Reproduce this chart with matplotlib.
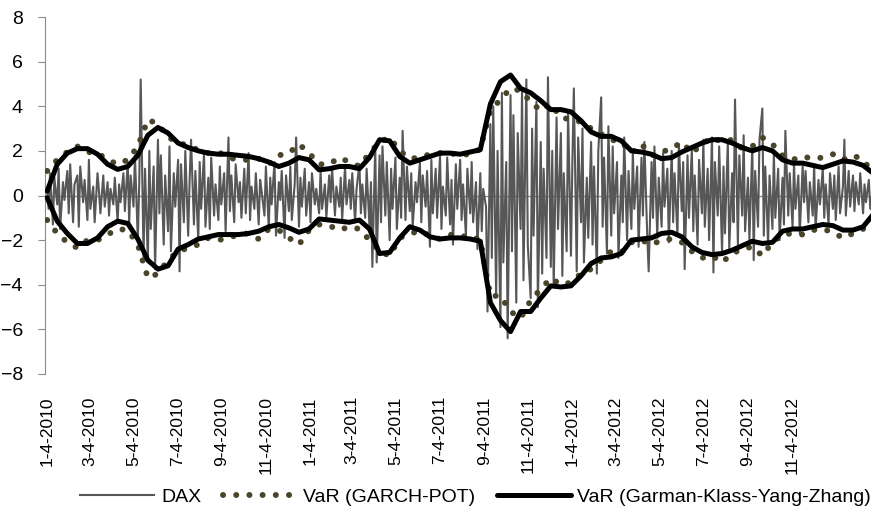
import matplotlib
matplotlib.use("Agg")
import matplotlib.pyplot as plt
import pandas as pd

# DAX daily returns (%), one value per 2 trading days
dax = [
    0.3, -0.6, 1.0, -1.3, 0.8, -0.4, 1.2, -1.5, 0.6, -0.2,
    1.1, -0.8, 1.4, -1.2, 0.5, 0.9, -1.4, 1.3, -0.3, 0.7,
    -1.1, 1.6, -0.6, 0.4, -1.2, 1.0, 0.2, -0.8, 0.9, -0.5,
    0.6, -0.9, 0.3, -0.4, 0.8, -1.2, 0.5, -0.3, 1.0, -0.7,
    1.5, -1.3, 0.9, -0.5, 1.8, -2.0, 0.6, 5.2, -2.8, 1.2,
    -3.0, 2.0, -1.5, 1.3, -3.3, 2.5, -0.8, 1.8, -2.2, 0.9,
    -1.6, 2.2, -2.5, 1.0, -0.5, 1.6, -3.4, 1.4, -1.2, 2.0,
    -1.8, 0.7, 2.5, -1.3, 1.1, -2.0, 1.5, -0.6, 1.9, -1.4,
    0.8, -1.5, 1.7, -0.9, 0.5, -1.1, 1.3, -0.4, 1.0, -1.6,
    2.6, -0.7, 0.9, -1.2, 1.4, -0.3, 0.6, -1.0, 1.2, -0.8,
    1.9, -1.1, 0.4, -0.6, 1.0, -1.3, 0.7, 0.2, -0.9, 1.3,
    -1.5, 0.8, -0.4, 1.5, -1.8, 0.6, -0.2, 1.1, -1.9, 0.9,
    -0.7, 1.3, -1.1, 0.5, 2.6, -1.4, 0.8, -0.5, 1.2, -0.9,
    0.6, -1.2, 1.0, -0.4, 0.3, -0.8, 1.1, -0.6, 0.5, -1.0,
    0.9, -0.3, 1.2, -0.9, 0.4, -0.5, 0.8, -1.1, 1.3, -0.4,
    0.7, -0.6, 1.0, -1.2, 0.3, 1.4, -0.8, 0.5, -1.0, 1.2,
    -1.4, 0.6, -3.2, 2.3, -3.0, 1.8, -1.2, 2.2, -0.9, 1.5,
    -2.0, 1.2, -0.6, 1.7, -1.5, 0.8, -1.0, 2.9, -1.1, 1.3,
    -0.7, 1.0, -1.4, 0.6, -0.3, 1.5, -1.2, 0.9, -0.5, 1.1,
    -2.3, 1.6, -0.8, 1.2, -1.0, 1.8, -1.5, 0.4, -0.9, 1.7,
    -1.3, 0.7, -2.2, 1.4, -0.6, 1.6, -1.1, 0.5, -1.8, 1.2,
    -0.8, 1.5, -1.2, 0.6, -2.4, 1.0, -1.6, 0.3, -0.5, -5.2,
    3.2, -2.8, 4.0, -4.5, 2.0, -5.9, 4.6, -3.0, 1.5, -6.4,
    4.5, -2.5, 3.6, -4.8, 2.8, -1.5, 4.8, -3.8, 5.2, -2.2,
    -4.6, 3.0, -1.8, 4.2, -5.0, 2.4, -3.5, 1.2, -2.8, 5.3,
    -3.2, 2.0, -4.1, 3.5, -1.5, 2.8, -3.6, 1.0, -2.5, 3.8,
    -2.7, 1.6, 4.8, -3.4, 2.6, -1.2, 3.0, -3.0, 0.8, -1.9,
    2.4, -2.2, 1.3, -3.5, 2.0, 4.4, -1.4, 1.7, -2.6, 3.1,
    -1.8, 2.2, -0.8, 1.5, -2.8, 0.9, -1.2, 2.6, -2.0, 1.1,
    -1.5, 2.0, -0.6, 1.3, -2.3, 1.7, -0.9, 2.4, -1.8, -3.4,
    1.5, -1.0, 2.2, -1.9, 0.8, -1.4, 1.9, -0.5, 1.2, -2.1,
    2.0, -1.2, 1.0, -1.8, 2.3, -0.7, 1.5, -3.3, 1.8, -1.0,
    2.1, -1.6, 0.9, -2.2, 1.6, -0.8, 2.5, -1.4, 1.2, -2.0,
    2.6, -3.45, 1.5, -0.9, 2.2, -2.6, 1.3, -1.7, 2.4, -2.4,
    1.0, -1.2, 4.3, -2.2, 1.8, -0.9, 2.7, -1.6, 0.8, -2.0,
    2.2, -2.9, 1.1, -1.4, 2.5, 3.9, -1.8, 1.3, -2.2, 0.9,
    -1.5, 1.9, -1.0, 1.2, -2.0, 0.8, -1.3, 2.9, -0.9, 1.0,
    -1.4, 1.5, -0.6, 0.9, -1.7, 1.3, -0.3, 1.1, -1.2, 0.6,
    -0.9, 1.4, -1.5, 0.7, -0.4, 1.2, -1.0, 0.5, -1.3, 1.0,
    -0.6, 0.9, -1.1, 1.3, -0.8, 0.4, 2.5, -0.9, 1.1, -0.5,
    0.9, -0.7, 0.6, -0.4, 1.0, -0.8, 0.5, -0.3, 0.7, -0.6,
    0.4, -0.2,
]

# VaR bands, one value every 14 days
gkyz_upper = [
    0.2, 1.4, 1.9, 2.1, 2.1, 1.85, 1.4, 1.17, 1.3, 1.8,
    2.7, 3.05, 2.8, 2.35, 2.15, 2.0, 1.9, 1.85, 1.85, 1.8,
    1.75, 1.65, 1.5, 1.3, 1.45, 1.7, 1.6, 1.15, 1.2, 1.3,
    1.3, 1.2, 1.7, 2.5, 2.45, 1.75, 1.45, 1.6, 1.75, 1.9,
    1.9, 1.85, 1.95, 2.05, 4.1, 5.1, 5.4, 4.8, 4.6, 4.25,
    3.85, 3.85, 3.75, 3.35, 2.85, 2.65, 2.65, 2.45, 2.0, 1.95,
    1.85, 1.65, 1.7, 1.95, 2.15, 2.35, 2.5, 2.5, 2.35, 2.15,
    2.0, 2.15, 2.0, 1.6, 1.45, 1.45, 1.35, 1.25, 1.4, 1.55,
    1.5, 1.35, 1.0,
]
gkyz_lower = [
    -0.1, -1.15, -1.7, -2.15, -2.15, -1.9, -1.4, -1.15, -1.25, -1.95,
    -2.9, -3.3, -3.15, -2.4, -2.2, -1.95, -1.85, -1.75, -1.75, -1.75,
    -1.7, -1.6, -1.4, -1.3, -1.45, -1.65, -1.5, -1.05, -1.1, -1.15,
    -1.2, -1.1, -1.5, -2.6, -2.55, -1.9, -1.4, -1.55, -1.85, -1.95,
    -1.9, -1.9, -1.95, -2.05, -4.8, -5.6, -6.1, -5.2, -5.2, -4.6,
    -4.05, -4.1, -4.05, -3.6, -3.05, -2.8, -2.75, -2.6, -2.0, -1.95,
    -1.9, -1.7, -1.65, -1.85, -2.3, -2.55, -2.65, -2.6, -2.45, -2.25,
    -2.05, -2.15, -2.1, -1.6, -1.5, -1.5, -1.4, -1.3, -1.35, -1.55,
    -1.55, -1.4, -0.85,
]
garch_upper = [
    1.1, 1.6, 1.95, 2.2, 1.95, 1.9, 1.6, 1.4, 1.6, 2.2,
    3.4, 3.2, 2.6, 2.4, 2.2, 2.05, 1.9, 1.95, 1.7, 1.6,
    1.6, 1.65, 1.4, 1.8, 1.9, 2.3, 1.9, 1.4, 1.4, 1.7,
    1.5, 1.3, 1.9, 2.4, 2.6, 2.0, 1.65, 1.7, 1.85, 1.9,
    1.85, 1.9, 1.8, 2.1, 3.8, 4.3, 4.8, 4.7, 4.2, 3.8,
    4.1, 3.5, 3.4, 3.3, 3.0, 2.75, 2.5, 2.4, 1.9, 2.3,
    1.8, 1.95, 2.1, 2.4, 1.9, 2.3, 2.6, 2.4, 2.5, 2.1,
    2.2, 2.6, 2.3, 1.8, 1.6, 1.75, 1.65, 1.7, 1.85, 1.6,
    1.8, 1.6, 1.0,
]
garch_lower = [
    -1.1, -1.7, -2.1, -2.35, -2.0, -2.0, -1.75, -1.5, -1.55, -2.2,
    -3.7, -3.5, -2.9, -2.5, -2.35, -2.2, -1.9, -2.0, -1.9, -1.75,
    -1.7, -1.95, -1.5, -1.55, -1.9, -2.2, -1.55, -1.3, -1.35, -1.55,
    -1.4, -1.5, -2.0, -2.5, -2.7, -1.9, -1.7, -1.6, -1.8, -1.95,
    -1.75, -1.85, -1.8, -2.0, -4.5, -4.5, -5.2, -5.5, -4.7, -4.2,
    -3.7, -4.0, -3.9, -3.5, -3.3, -2.9, -2.5, -2.55, -2.1, -2.0,
    -2.2, -2.0, -1.95, -2.1, -2.5, -2.8, -2.7, -3.0, -2.6, -2.4,
    -2.3, -2.7, -2.1, -1.75, -1.7, -1.75, -1.55, -1.5, -1.65, -1.9,
    -1.7, -1.5, -1.0,
]

dax_dates = pd.bdate_range("2010-01-04", periods=len(dax), freq="2B")
var_dates = pd.date_range("2010-01-04", periods=len(gkyz_upper), freq="14D")
tick_dates = pd.date_range("2010-01-01", periods=18, freq="2MS") + pd.Timedelta(days=3)
tick_labels = [f"{d.month}-{d.day}-{d.year}" for d in tick_dates]

plt.rcParams["font.family"] = ["Liberation Sans", "DejaVu Sans"]

fig = plt.figure(figsize=(8.73, 5.18), dpi=100)
ax = fig.add_axes([45 / 873, 1 - 374 / 518, 826 / 873, 357 / 518])

gray = "#575757"
olive = "#4a452a"

ax.axhline(0, color="#8c8c8c", lw=1.0, zorder=1)
ax.plot(dax_dates, dax, color=gray, lw=1.5, label="DAX", zorder=2)

dot_style = dict(color=olive, lw=4.3, linestyle=(0, (0.01, 2.2)),
                 dash_capstyle="round", zorder=3)
ax.plot(var_dates, garch_upper, label="VaR (GARCH-POT)", **dot_style)
ax.plot(var_dates, garch_lower, **dot_style)

ax.plot(var_dates, gkyz_upper, color="black", lw=3.6,
        label="VaR (Garman-Klass-Yang-Zhang)", zorder=4,
        solid_joinstyle="round", solid_capstyle="round")
ax.plot(var_dates, gkyz_lower, color="black", lw=3.6, zorder=4,
        solid_joinstyle="round", solid_capstyle="round")

ax.set_ylim(-8, 8)
ax.set_yticks(range(-8, 9, 2))
ax.set_xlim(pd.Timestamp("2010-01-01"), pd.Timestamp("2013-02-22"))
ax.set_xticks(tick_dates)
ax.set_xticklabels(tick_labels, rotation=90)

for s in ["top", "right", "bottom"]:
    ax.spines[s].set_visible(False)
ax.spines["left"].set_color("#8c8c8c")
ax.tick_params(axis="y", colors="#8c8c8c", labelcolor="black", length=5,
               labelsize=14, pad=11)
ax.tick_params(axis="x", length=0, labelsize=12.5, pad=16)

handles, labels = ax.get_legend_handles_labels()
fig.legend(handles, labels, loc="lower center", bbox_to_anchor=(0.545, -0.01),
           ncol=3, frameon=False, fontsize=14, handlelength=3.8,
           columnspacing=1.1, handletextpad=0.35)

fig.savefig("out.png", dpi=100)
